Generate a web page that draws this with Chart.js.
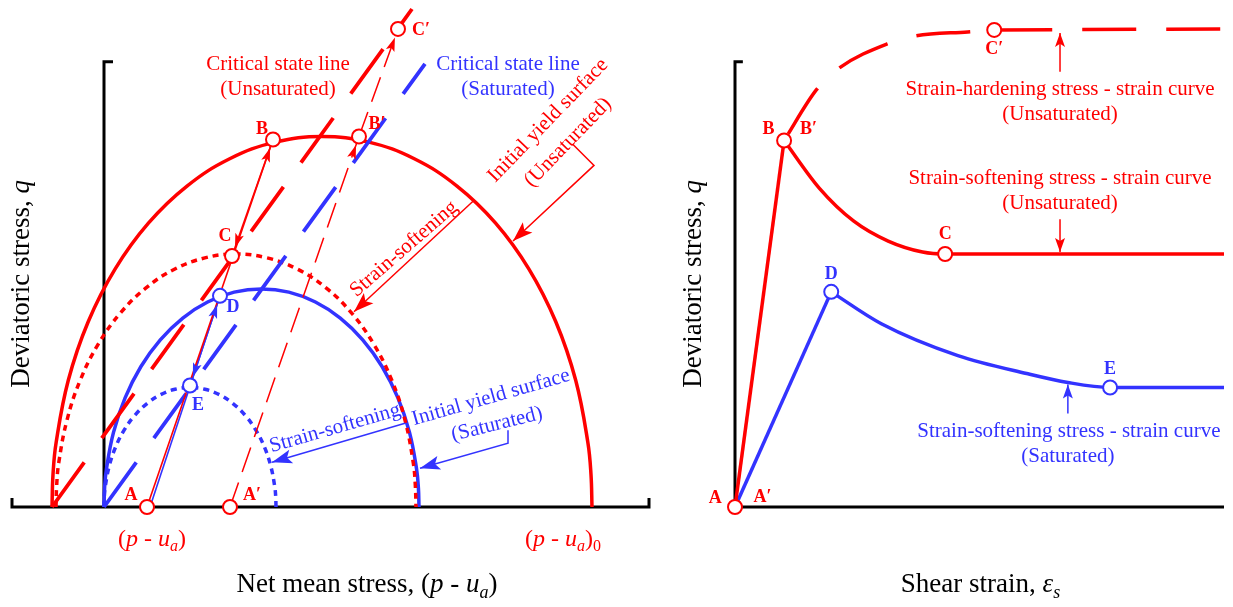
<!DOCTYPE html>
<html><head><meta charset="utf-8">
<script src="https://cdn.jsdelivr.net/npm/chart.js@4/dist/chart.umd.min.js"></script>
<style>
html,body{margin:0;padding:0;background:#fff;overflow:hidden}
#wrap{position:relative;width:1233px;height:607px;background:#fff}
#c1{position:absolute;left:0;top:0}
#c2{position:absolute;left:680px;top:0}
</style></head><body>
<div id="wrap">
<canvas id="c1" width="680" height="607"></canvas>
<canvas id="c2" width="553" height="607"></canvas>
</div>
<script>
// ---------------- LEFT PANEL DATA (net mean stress vs deviatoric stress) ----------------
const yieldUnsatX = [-5.2,-5.1,-4.79,-3.57,-1.58,1.12,4.44,8.3,12.57,17.11,21.8,26.49,31.03,35.3,39.16,42.48,45.18,47.17,48.39,48.7,48.8];
const yieldUnsatY = [0,3.24,6.46,12.72,18.6,23.91,28.5,32.22,34.96,36.63,37.2,36.63,34.96,32.22,28.5,23.91,18.6,12.72,6.46,3.24,0];
const softUnsatX  = [-4.8,-4.73,-4.53,-3.71,-2.39,-0.59,1.63,4.2,7.04,10.08,13.2,16.32,19.36,22.2,24.77,26.99,28.79,30.11,30.93,31.13,31.2];
const softUnsatY  = [0,2.21,4.41,8.69,12.7,16.33,19.46,22.0,23.87,25.01,25.4,25.01,23.87,22.0,19.46,16.33,12.7,8.69,4.41,2.21,0];
const yieldSatX   = [0,0.06,0.24,0.95,2.11,3.68,5.63,7.88,10.36,13.02,15.75,18.48,21.14,23.63,25.87,27.82,29.39,30.55,31.26,31.44,31.5];
const yieldSatY   = [0,1.91,3.8,7.49,10.95,14.08,16.78,18.97,20.58,21.57,21.9,21.57,20.58,18.97,16.78,14.08,10.95,7.49,3.8,1.91,0];
const softSatX    = [0,0.03,0.13,0.52,1.15,2.01,3.07,4.3,5.66,7.11,8.6,10.09,11.54,12.9,14.13,15.19,16.05,16.68,17.07,17.17,17.2];
const softSatY    = [0,1.05,2.08,4.1,6.0,7.71,9.19,10.39,11.28,11.82,12.0,11.82,11.28,10.39,9.19,7.71,6.0,4.1,2.08,1.05,0];
const cslUnsatX = [-5.2, 30.8], cslUnsatY = [0, 50.0];
const cslSatX   = [0, 32.1],    cslSatY   = [0, 44.5];
// stress points: A, A', B, B', C, C', D, E
const lPtNames = ['A','A′','B','B′','C','C′','D','E'];
const lPtX = [4.3,12.6,16.9,25.5,12.8,29.4,11.6,8.6];
const lPtY = [0,0,36.9,37.2,25.2,48.0,21.2,12.2];
const lPtSat = [0,0,0,0,0,0,1,1];
const lLabX = [2.7,14.8,15.8,27.3,12.1,31.7,12.9,9.4];
const lLabY = [1.2,1.2,37.9,38.4,27.2,47.9,20.0,10.2];
const satPathStartX = 4.6;
// leader lines
const leadYieldUnsatX = [46.9,49.0,40.9], leadYieldUnsatY = [36.4,34.3,26.7];
const leadSoftUnsatX = [36.9,25.0], leadSoftUnsatY = [30.7,19.6];
const leadSoftSatX = [30.1,16.8], leadSoftSatY = [8.4,4.5];
const leadYieldSatX = [40.4,40.4,31.6], leadYieldSatY = [7.7,6.4,3.9];

// ---------------- RIGHT PANEL DATA (shear strain vs deviatoric stress) ----------------
const rLoadRedX = [0,5.0], rLoadRedY = [0,36.8];
const rSoftRedX = [5.0,8.6,12.1,15.6,19.1,21.4,30,49.8];
const rSoftRedY = [36.8,32.0,28.7,26.7,25.6,25.4,25.4,25.4];
const rHardRedX = [5.0,8.3,10.5,15.5,18.4,23.7,26.4];
const rHardRedY = [36.8,41.9,44.0,46.5,47.3,47.7,47.9];
const rHardFlatX = [26.4,49.8], rHardFlatY = [47.9,48.0];
const rLoadBlueX = [0,9.8], rLoadBlueY = [0,21.6];
const rSoftBlueX = [9.8,14.9,22.7,29.7,33.9,38.2,44,49.8];
const rSoftBlueY = [21.6,18.4,15.2,13.4,12.5,12.0,12.0,12.0];
const rPtNames = ['A','B','C','C′','D','E'];
const rPtX = [0,5.0,21.4,26.4,9.8,38.2];
const rPtY = [0,36.8,25.4,47.9,21.6,12.0];
const rPtSat = [0,0,0,0,1,1];
const rArrowHardX = [33.1,33.1], rArrowHardY = [43.7,47.6];
const rArrowSoftX = [33.1,33.1], rArrowSoftY = [28.9,25.6];
const rArrowSatX = [33.9,33.9], rArrowSatY = [9.4,12.3];

const RED = '#ff0000', BLUE = '#3333ff', BLACK = '#000000';
const FAM = '"Liberation Serif","Times New Roman",serif';

function pts(xs, ys){ return xs.map((v,i)=>({x:v, y:ys[i]})); }
function lineDs(xs, ys, color, width, extra){
  return Object.assign({data: pts(xs,ys), borderColor: color, backgroundColor: color, borderWidth: width,
    pointRadius: 0, pointHoverRadius: 0, tension: 0, fill: false, clip: false, showLine: true,
    borderCapStyle: 'butt', borderJoinStyle: 'miter'}, extra || {});
}
const SMOOTH = {cubicInterpolationMode: 'monotone'};
const ROUND = {tension: 0.4};
function markerDs(xs, ys, sat){
  return {data: pts(xs,ys), showLine: false, pointRadius: 7, pointHoverRadius: 7, pointBorderWidth: 2,
    pointBackgroundColor: '#ffffff', pointBorderColor: sat.map(s=>s?BLUE:RED), clip: false};
}
function drawRich(ctx, t, X, Y){
  const size = t.size || 21;
  const segs = typeof t.s === 'string' ? [{t:t.s}] : t.s.map(o=>Object.assign({},o));
  const font = sg => `${(sg.it||t.italic)?'italic ':''}${t.bold?'bold ':''}${sg.sub?Math.round(size*0.68):size}px ${FAM}`;
  ctx.save();
  ctx.translate(X, Y); ctx.rotate((t.rot||0)*Math.PI/180);
  let w = 0;
  segs.forEach(sg=>{ ctx.font = font(sg); sg.w = ctx.measureText(sg.t).width; w += sg.w; });
  let cx = -w/2;
  ctx.fillStyle = t.color || BLACK; ctx.textBaseline = 'middle'; ctx.textAlign = 'left';
  segs.forEach(sg=>{ ctx.font = font(sg); ctx.fillText(sg.t, cx, sg.sub ? size*0.3 : 0); cx += sg.w; });
  ctx.restore();
}
function head(ctx, fx, fy, tx, ty, color, len, half, retract){
  const dx = tx-fx, dy = ty-fy, L = Math.hypot(dx,dy), ux = dx/L, uy = dy/L;
  const px = tx-ux*retract, py = ty-uy*retract;
  const bx = px-ux*len, by = py-uy*len;
  ctx.save();
  ctx.beginPath(); ctx.moveTo(px,py);
  ctx.lineTo(bx-uy*half, by+ux*half);
  ctx.lineTo(bx+ux*len*0.22, by+uy*len*0.22);
  ctx.lineTo(bx+uy*half, by-ux*half);
  ctx.closePath(); ctx.fillStyle = color; ctx.fill();
  ctx.restore();
}
function makeOverlay(arrows, texts){
  return {
    id: 'overlay',
    afterDatasetsDraw(chart){
      const {ctx, scales:{x, y}} = chart;
      arrows.forEach(a=>{
        head(ctx, x.getPixelForValue(a.f[0]), y.getPixelForValue(a.f[1]),
          x.getPixelForValue(a.t[0]), y.getPixelForValue(a.t[1]), a.c, a.len||14, a.half||4.5, a.r||0);
      });
      texts.forEach(t=> drawRich(ctx, t, x.getPixelForValue(t.x), y.getPixelForValue(t.y)));
    }
  };
}
function baseOptions(xmin, xmax, ymin, ymax, pad){
  return {
    responsive: false, animation: false, events: [],
    layout: {padding: pad},
    plugins: {legend: {display: false}, tooltip: {enabled: false}, title: {display: false}},
    scales: {
      x: {type: 'linear', display: false, min: xmin, max: xmax},
      y: {type: 'linear', display: false, min: ymin, max: ymax}
    }
  };
}
const L = i => [lPtX[i], lPtY[i]];

// ---------- LEFT CHART ----------
const leftDatasets = [
  markerDs(lPtX, lPtY, lPtSat),
  // stress paths
  lineDs([lPtX[0], lPtX[2]], [lPtY[0], lPtY[2]], RED, 1.6),
  lineDs([lPtX[2], lPtX[4]], [lPtY[2], lPtY[4]], RED, 1.6),
  lineDs([satPathStartX, lPtX[6]], [0, lPtY[6]], BLUE, 1.6),
  lineDs([lPtX[6], lPtX[7]], [lPtY[6], lPtY[7]], BLUE, 1.6),
  lineDs([lPtX[1], lPtX[3]], [lPtY[1], lPtY[3]], RED, 1.5, {borderDash:[26,11]}),
  lineDs([lPtX[3], lPtX[5]], [lPtY[3], lPtY[5]], RED, 1.5, {borderDash:[26,11]}),
  // leaders
  lineDs(leadYieldUnsatX, leadYieldUnsatY, RED, 1.5),
  lineDs(leadSoftUnsatX, leadSoftUnsatY, RED, 1.5),
  lineDs(leadSoftSatX, leadSoftSatY, BLUE, 1.5),
  lineDs(leadYieldSatX, leadYieldSatY, BLUE, 1.5),
  // critical state lines
  lineDs(cslUnsatX, cslUnsatY, RED, 3.8, {borderDash:[55,30]}),
  lineDs(cslSatX, cslSatY, BLUE, 3.8, {borderDash:[55,30]}),
  // yield surfaces
  lineDs(softSatX, softSatY, BLUE, 3.5, Object.assign({borderDash:[6,5]}, ROUND)),
  lineDs(softUnsatX, softUnsatY, RED, 3.5, Object.assign({borderDash:[6,5]}, ROUND)),
  lineDs(yieldSatX, yieldSatY, BLUE, 3.5, ROUND),
  lineDs(yieldUnsatX, yieldUnsatY, RED, 3.5, ROUND),
  // axes
  lineDs([-9.2,-9.2,54.5,54.5], [0.9,0,0,0.9], BLACK, 3),
  lineDs([0.9,0,0], [44.7,44.7,0], BLACK, 3),
];
const leftArrows = [
  {f:L(0), t:L(2), c:RED, r:9},
  {f:L(2), t:L(4), c:RED, r:9},
  {f:[satPathStartX,0], t:L(6), c:BLUE, r:9},
  {f:L(6), t:L(7), c:BLUE, r:9},
  {f:L(1), t:L(3), c:RED, r:9},
  {f:L(3), t:L(5), c:RED, r:9},
  {f:[leadYieldUnsatX[1],leadYieldUnsatY[1]], t:[leadYieldUnsatX[2],leadYieldUnsatY[2]], c:RED, len:20, half:7},
  {f:[leadSoftUnsatX[0],leadSoftUnsatY[0]], t:[leadSoftUnsatX[1],leadSoftUnsatY[1]], c:RED, len:20, half:7},
  {f:[leadSoftSatX[0],leadSoftSatY[0]], t:[leadSoftSatX[1],leadSoftSatY[1]], c:BLUE, len:20, half:7},
  {f:[leadYieldSatX[1],leadYieldSatY[1]], t:[leadYieldSatX[2],leadYieldSatY[2]], c:BLUE, len:20, half:7},
];
const leftTexts = [
  {s:'Critical state line', x:17.4, y:44.4, color:RED},
  {s:'(Unsaturated)', x:17.4, y:41.9, color:RED},
  {s:'Critical state line', x:40.4, y:44.4, color:BLUE},
  {s:'(Saturated)', x:40.4, y:41.9, color:BLUE},
  {s:'Initial yield surface', x:44.4, y:38.8, rot:-46, color:RED},
  {s:'(Unsaturated)', x:46.4, y:36.6, rot:-46, color:RED},
  {s:'Strain-softening', x:30.0, y:25.9, rot:-41, color:RED},
  {s:'Strain-softening', x:23.1, y:7.9, rot:-16, color:BLUE},
  {s:'Initial yield surface', x:38.7, y:11.0, rot:-16, color:BLUE},
  {s:'(Saturated)', x:39.3, y:8.3, rot:-14, color:BLUE},
  {s:[{t:'('},{t:'p',it:1},{t:' - '},{t:'u',it:1},{t:'a',it:1,sub:1},{t:')'}], x:4.8, y:-3.3, size:24, color:RED},
  {s:[{t:'('},{t:'p',it:1},{t:' - '},{t:'u',it:1},{t:'a',it:1,sub:1},{t:')'},{t:'0',sub:1}], x:45.9, y:-3.3, size:24, color:RED},
  {s:[{t:'Net mean stress, ('},{t:'p',it:1},{t:' - '},{t:'u',it:1},{t:'a',it:1,sub:1},{t:')'}], x:26.3, y:-7.8, size:27, color:BLACK},
  {s:[{t:'Deviatoric stress, '},{t:'q',it:1}], x:-8.2, y:22.4, size:27, rot:-90, color:BLACK},
].concat(lPtNames.map((n,i)=>({s:n, x:lLabX[i], y:lLabY[i], size:18, bold:true, color: lPtSat[i]?BLUE:RED})));

new Chart(document.getElementById('c1'), {
  type: 'line',
  data: {datasets: leftDatasets},
  options: baseOptions(-9.2, 54.5, 0, 50.0, {left:12, right:31, top:7, bottom:100}),
  plugins: [makeOverlay(leftArrows, leftTexts)]
});

// ---------- RIGHT CHART ----------
const rLabX = [-2.0,3.4,21.4,26.4,9.8,38.2];
const rLabY = [0.9,37.9,27.4,45.9,23.4,13.8];
const rightDatasets = [
  markerDs(rPtX, rPtY, rPtSat),
  lineDs(rArrowHardX, rArrowHardY, RED, 1.5),
  lineDs(rArrowSoftX, rArrowSoftY, RED, 1.5),
  lineDs(rArrowSatX, rArrowSatY, BLUE, 1.5),
  lineDs(rHardRedX, rHardRedY, RED, 3.5, Object.assign({borderDash:[54,30], borderDashOffset:-8}, SMOOTH)),
  lineDs(rHardFlatX, rHardFlatY, RED, 3.5, {borderDash:[54,30], borderDashOffset:-4}),
  lineDs(rSoftRedX, rSoftRedY, RED, 3.5, SMOOTH),
  lineDs(rLoadRedX, rLoadRedY, RED, 3.5),
  lineDs(rSoftBlueX, rSoftBlueY, BLUE, 3.5, SMOOTH),
  lineDs(rLoadBlueX, rLoadBlueY, BLUE, 3.5),
  lineDs([0,49.8], [0,0], BLACK, 3),
  lineDs([0.8,0,0], [44.7,44.7,0], BLACK, 3),
];
const rightArrows = [
  {f:[rArrowHardX[0],rArrowHardY[0]], t:[rArrowHardX[1],rArrowHardY[1]], c:RED, len:14, half:5},
  {f:[rArrowSoftX[0],rArrowSoftY[0]], t:[rArrowSoftX[1],rArrowSoftY[1]], c:RED, len:14, half:5},
  {f:[rArrowSatX[0],rArrowSatY[0]], t:[rArrowSatX[1],rArrowSatY[1]], c:BLUE, len:14, half:5},
];
const rightTexts = [
  {s:'Strain-hardening stress - strain curve', x:33.1, y:41.9, color:RED},
  {s:'(Unsaturated)', x:33.1, y:39.4, color:RED},
  {s:'Strain-softening stress - strain curve', x:33.1, y:33.0, color:RED},
  {s:'(Unsaturated)', x:33.1, y:30.5, color:RED},
  {s:'Strain-softening stress - strain curve', x:34.0, y:7.6, color:BLUE},
  {s:'(Saturated)', x:33.9, y:5.1, color:BLUE},
  {s:'A′', x:2.8, y:1.0, size:18, bold:true, color:RED},
  {s:'B′', x:7.5, y:37.9, size:18, bold:true, color:RED},
  {s:[{t:'Shear strain, '},{t:'ε',it:1},{t:'s',it:1,sub:1}], x:25.0, y:-7.8, size:27, color:BLACK},
  {s:[{t:'Deviatoric stress, '},{t:'q',it:1}], x:-4.2, y:22.4, size:27, rot:-90, color:BLACK},
].concat(rPtNames.map((n,i)=>({s:n, x:rLabX[i], y:rLabY[i], size:18, bold:true, color: rPtSat[i]?BLUE:RED})));

new Chart(document.getElementById('c2'), {
  type: 'line',
  data: {datasets: rightDatasets},
  options: baseOptions(0, 49.8, 0, 50.0, {left:55, right:0, top:7, bottom:100}),
  plugins: [makeOverlay(rightArrows, rightTexts)]
});
</script>
</body></html>
